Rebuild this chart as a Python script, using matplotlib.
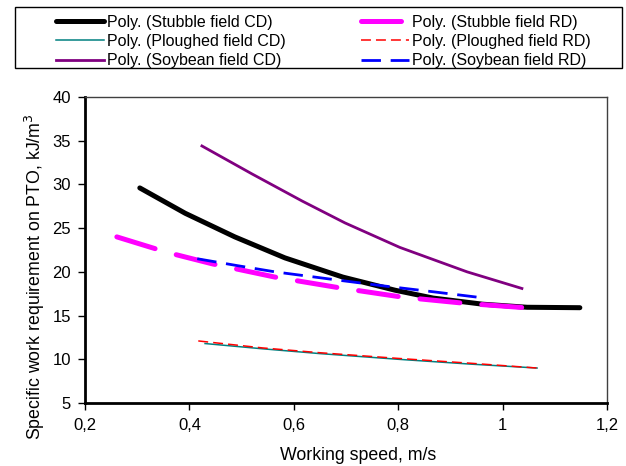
import matplotlib
matplotlib.use("Agg")
import matplotlib.pyplot as plt
from matplotlib.patches import Rectangle
from matplotlib.ticker import FuncFormatter

plt.rcParams['font.family'] = ['Liberation Sans', 'DejaVu Sans']

# values (trendlines)
stubble_cd_x = [0.305, 0.392, 0.487, 0.583, 0.694, 0.794, 0.867, 0.962, 1.047, 1.148]
stubble_cd_y = [29.6, 26.7, 24.0, 21.6, 19.4, 17.9, 17.0, 16.3, 15.95, 15.9]

stubble_rd_x = [0.261, 0.359, 0.445, 0.564, 0.685, 0.809, 0.928, 1.043]
stubble_rd_y = [24.0, 22.2, 20.9, 19.4, 18.2, 17.1, 16.4, 15.9]

ploughed_cd_x = [0.430, 0.540, 0.650, 0.800, 0.938, 1.066]
ploughed_cd_y = [11.8, 11.2, 10.65, 10.0, 9.45, 9.0]

ploughed_rd_x = [0.417, 0.540, 0.650, 0.800, 0.938, 1.066]
ploughed_rd_y = [12.1, 11.3, 10.75, 10.1, 9.55, 9.0]

soybean_cd_x = [0.424, 0.520, 0.616, 0.698, 0.803, 0.932, 1.037]
soybean_cd_y = [34.4, 31.2, 28.1, 25.6, 22.8, 20.0, 18.1]

soybean_rd_x = [0.415, 0.493, 0.564, 0.679, 0.771, 0.870, 0.966]
soybean_rd_y = [21.5, 20.7, 20.0, 19.1, 18.4, 17.7, 17.0]

x_ticks = [0.2, 0.4, 0.6, 0.8, 1.0, 1.2]
y_ticks = [5, 10, 15, 20, 25, 30, 35, 40]

fig = plt.figure(figsize=(6.26, 4.66), dpi=100)
ax = fig.add_axes([85 / 626, 1 - 403 / 466, 522 / 626, 306 / 466])

l1, = ax.plot(stubble_cd_x, stubble_cd_y, color="black", lw=3.6,
              solid_capstyle="round", label="Poly. (Stubble field CD)")
l2, = ax.plot(stubble_rd_x, stubble_rd_y, color="#FF00FF", lw=3.6, dashes=(8, 4.4),
              dash_capstyle="round", label="Poly. (Stubble field RD)")
l3, = ax.plot(ploughed_cd_x, ploughed_cd_y, color="#008080", lw=1.1,
              label="Poly. (Ploughed field CD)")
l4, = ax.plot(ploughed_rd_x, ploughed_rd_y, color="#FF0000", lw=1.1, dashes=(6.5, 3.3),
              label="Poly. (Ploughed field RD)")
l5, = ax.plot(soybean_cd_x, soybean_cd_y, color="#800080", lw=2,
              label="Poly. (Soybean field CD)")
l6, = ax.plot(soybean_rd_x, soybean_rd_y, color="#0000FF", lw=2, dashes=(7, 3.5),
              label="Poly. (Soybean field RD)")

ax.set_xlim(0.2, 1.2)
ax.set_ylim(5, 40)
ax.set_xticks(x_ticks)
ax.set_yticks(y_ticks)
ax.xaxis.set_major_formatter(FuncFormatter(lambda v, p: f"{v:g}".replace(".", ",")))
ax.tick_params(direction="out", length=5, width=1, labelsize=12)
ax.tick_params(axis="y", pad=5)
ax.tick_params(axis="x", pad=6)

for s in ["left", "bottom"]:
    ax.spines[s].set_linewidth(2)
for s in ["top", "right"]:
    ax.spines[s].set_linewidth(1)
    ax.spines[s].set_color("#404040")

ax.set_xlabel("Working speed, m/s", fontsize=12.8)
ax.set_ylabel("Specific work requirement on PTO, kJ/m$^3$", fontsize=12.8)
ax.xaxis.set_label_coords((358 - 85) / 522, -(447 - 403) / 306)
ax.yaxis.set_label_coords((47 - 85) / 522, (403 - 277) / 306)

# legend above the plot, box drawn separately
handles = [l1, l3, l5, l2, l4, l6]
fig.legend(handles=handles, labels=[h.get_label() for h in handles], ncol=2,
           loc="center", bbox_to_anchor=(0.517, 0.911), frameon=False,
           fontsize=11.5, handlelength=3.0, handletextpad=0.2, columnspacing=4.7,
           labelspacing=0.27)
fig.patches.append(Rectangle((15 / 626, 1 - 68 / 466), 607 / 626, 61 / 466,
                             transform=fig.transFigure, fill=False,
                             edgecolor="black", lw=1))

fig.savefig("out.png", dpi=100)
